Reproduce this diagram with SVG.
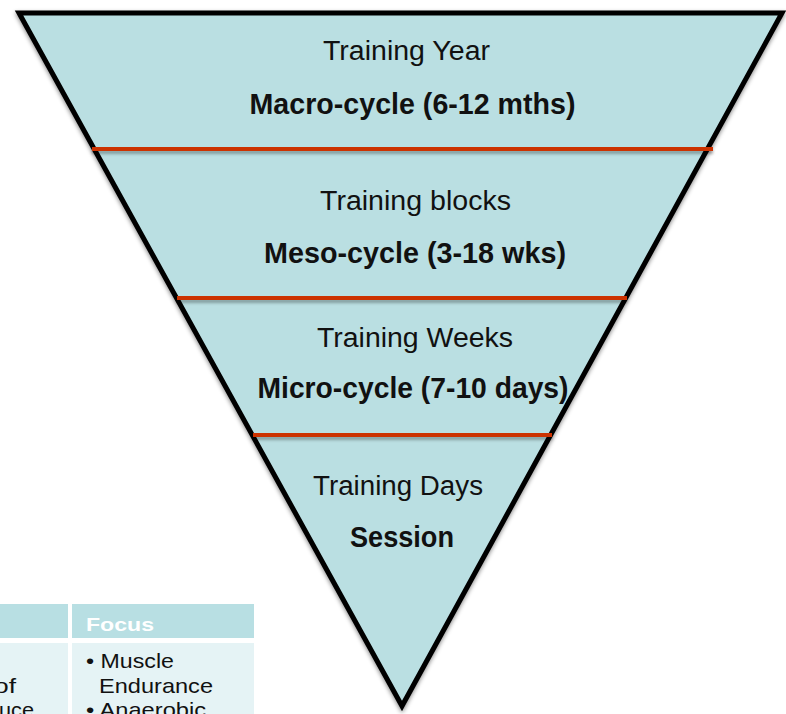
<svg xmlns="http://www.w3.org/2000/svg" width="786" height="714" viewBox="0 0 786 714">
  <defs>
    <filter id="soft" x="-5%" y="-5%" width="110%" height="110%">
      <feGaussianBlur in="SourceAlpha" stdDeviation="2"/>
      <feOffset dx="0" dy="2" result="b"/>
      <feFlood flood-color="#000" flood-opacity="0.45"/>
      <feComposite in2="b" operator="in"/>
      <feMerge><feMergeNode/><feMergeNode in="SourceGraphic"/></feMerge>
    </filter>
    <filter id="lineShadow" x="-2%" y="-200%" width="104%" height="500%">
      <feGaussianBlur in="SourceAlpha" stdDeviation="1.5"/>
      <feOffset dx="0" dy="3" result="b"/>
      <feFlood flood-color="#000" flood-opacity="0.3"/>
      <feComposite in2="b" operator="in"/>
      <feMerge><feMergeNode/><feMergeNode in="SourceGraphic"/></feMerge>
    </filter>
  </defs>
  <style>
    .tri { fill: #badfe2; stroke: #000; stroke-width: 5; stroke-linejoin: miter; }
    .div { stroke: #cc3300; stroke-width: 4; }
    .lbl { font-family: "Liberation Sans", Arial, sans-serif; font-size: 27px; fill: #111; text-anchor: middle; }
    .ttl { font-family: "Liberation Sans", Arial, sans-serif; font-size: 29px; font-weight: bold; fill: #111; text-anchor: middle; }
    .th { font-family: "Liberation Sans", Arial, sans-serif; font-size: 19px; font-weight: bold; fill: #fff; }
    .td { font-family: "Liberation Sans", Arial, sans-serif; font-size: 21px; fill: #111; }
  </style>
  <rect width="786" height="714" fill="#fff"/>

  <!-- table fragment -->
  <g id="table">
    <rect x="0" y="604" width="68" height="34" fill="#b8dfe3"/>
    <rect x="72" y="604" width="182" height="34" fill="#b8dfe3"/>
    <rect x="0" y="643" width="68" height="71" fill="#e5f3f5"/>
    <rect x="72" y="643" width="182" height="71" fill="#e5f3f5"/>
    <text class="th" x="86" y="631" textLength="68" lengthAdjust="spacingAndGlyphs">Focus</text>
    <text class="td" x="-6" y="693" textLength="22" lengthAdjust="spacingAndGlyphs">of</text>
    <text class="td" x="-1" y="717" textLength="35" lengthAdjust="spacingAndGlyphs">uce</text>
    <text class="td" x="86" y="668" textLength="88" lengthAdjust="spacingAndGlyphs">• Muscle</text>
    <text class="td" x="99" y="693" textLength="114" lengthAdjust="spacingAndGlyphs">Endurance</text>
    <text class="td" x="86" y="717" textLength="120" lengthAdjust="spacingAndGlyphs">• Anaerobic</text>
  </g>

  <!-- pyramid body -->
  <g id="pyramid" filter="url(#soft)">
    <polygon class="tri" points="19,13 782,13 402,706"/>
  </g>

  <!-- level dividers -->
  <g id="connectors" filter="url(#lineShadow)">
    <line class="div" x1="92" y1="149" x2="713" y2="149"/>
    <line class="div" x1="177" y1="298" x2="627" y2="298"/>
    <line class="div" x1="253" y1="435" x2="552" y2="435"/>
  </g>

  <g id="level-year">
    <text class="lbl" x="406.5" y="60" textLength="167" lengthAdjust="spacingAndGlyphs">Training Year</text>
    <text class="ttl" x="412.5" y="114" textLength="326" lengthAdjust="spacingAndGlyphs">Macro-cycle (6-12 mths)</text>
  </g>
  <g id="level-blocks">
    <text class="lbl" x="415.5" y="210" textLength="191" lengthAdjust="spacingAndGlyphs">Training blocks</text>
    <text class="ttl" x="415" y="263" textLength="302" lengthAdjust="spacingAndGlyphs">Meso-cycle (3-18 wks)</text>
  </g>
  <g id="level-weeks">
    <text class="lbl" x="415" y="347" textLength="196" lengthAdjust="spacingAndGlyphs">Training Weeks</text>
    <text class="ttl" x="413" y="398" textLength="311" lengthAdjust="spacingAndGlyphs">Micro-cycle (7-10 days)</text>
  </g>
  <g id="level-days">
    <text class="lbl" x="398" y="495" textLength="170" lengthAdjust="spacingAndGlyphs">Training Days</text>
    <text class="ttl" x="402" y="547" textLength="104" lengthAdjust="spacingAndGlyphs">Session</text>
  </g>
</svg>
